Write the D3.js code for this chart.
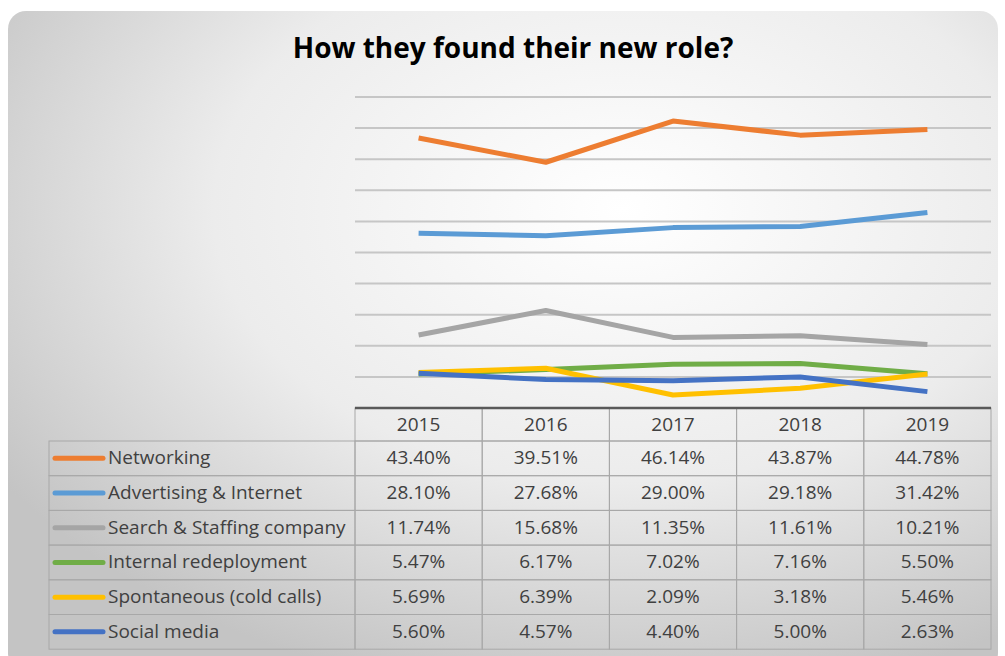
<!DOCTYPE html>
<html>
  <head>
    <title>How they found their new role?</title>
    <script src="https://d3js.org/d3.v7.min.js"></script>
    <style>
      body { margin: 0; background: #fff; }
      svg { font-family: "Open Sans", Lato, sans-serif; }
      .grid line { stroke: #c6c6c6; stroke-width: 2; }
      .line { fill: none; stroke-width: 5; stroke-linejoin: round; }
      .cell { fill: none; stroke: #a8a8a8; stroke-width: 1; }
      .tbl { font-size: 19px; fill: #404040; }
    </style>
  </head>
  <body>
    <svg width="1005" height="656"></svg>
    <script>
      const years = ["2015", "2016", "2017", "2018", "2019"];
      const seriesNames = ["Networking", "Advertising & Internet", "Search & Staffing company",
        "Internal redeployment", "Spontaneous (cold calls)", "Social media"];
      const networking = [43.40, 39.51, 46.14, 43.87, 44.78];
      const advertising = [28.10, 27.68, 29.00, 29.18, 31.42];
      const search = [11.74, 15.68, 11.35, 11.61, 10.21];
      const internal = [5.47, 6.17, 7.02, 7.16, 5.50];
      const spontaneous = [5.69, 6.39, 2.09, 3.18, 5.46];
      const social = [5.60, 4.57, 4.40, 5.00, 2.63];
      const colors = ["#ED7D31", "#5B9BD5", "#A5A5A5", "#70AD47", "#FFC000", "#4472C4"];
      const yTicks = [0, 5, 10, 15, 20, 25, 30, 35, 40, 45, 50];

      const series = [networking, advertising, search, internal, spontaneous, social]
        .map((v, i) => ({ name: seriesNames[i], color: colors[i], values: v }));

      const svg = d3.select("svg");

      // background card with soft radial gradient
      const defs = svg.append("defs");
      const grad = defs.append("radialGradient")
        .attr("id", "bg").attr("cx", "0.62").attr("cy", "0.3").attr("r", "0.75");
      grad.append("stop").attr("offset", "0%").attr("stop-color", "#ffffff");
      grad.append("stop").attr("offset", "55%").attr("stop-color", "#ececec");
      grad.append("stop").attr("offset", "100%").attr("stop-color", "#c4c4c4");

      svg.append("rect")
        .attr("x", 8).attr("y", 11).attr("width", 990).attr("height", 660)
        .attr("rx", 18)
        .attr("fill", "url(#bg)");

      svg.append("text")
        .attr("x", 513).attr("y", 58)
        .attr("text-anchor", "middle")
        .style("font-size", "28px")
        .style("font-weight", "bold")
        .attr("fill", "#000")
        .text("How they found their new role?");

      const plotLeft = 355, plotRight = 991, plotTop = 97, plotBottom = 408;

      const x = d3.scaleBand().domain(years).range([plotLeft, plotRight]);
      const y = d3.scaleLinear().domain([0, 50]).range([plotBottom, plotTop]);

      svg.append("g").attr("class", "grid")
        .selectAll("line")
        .data(yTicks.slice(1))
        .join("line")
        .attr("x1", plotLeft).attr("x2", plotRight)
        .attr("y1", d => y(d)).attr("y2", d => y(d));

      const line = d3.line()
        .x((d, i) => x(years[i]) + x.bandwidth() / 2)
        .y(d => y(d));

      svg.append("g")
        .selectAll("path")
        .data(series)
        .join("path")
        .attr("class", "line")
        .attr("stroke", d => d.color)
        .attr("d", d => line(d.values));

      // data table
      const headerH = 33, rowH = 34.7, labelLeft = 49;
      const table = svg.append("g").attr("class", "tbl");

      years.forEach(yr => {
        table.append("rect").attr("class", "cell")
          .attr("x", x(yr)).attr("y", plotBottom)
          .attr("width", x.bandwidth()).attr("height", headerH);
        table.append("text")
          .attr("x", x(yr) + x.bandwidth() / 2).attr("y", plotBottom + headerH / 2 + 6)
          .attr("text-anchor", "middle").text(yr);
      });

      series.forEach((s, i) => {
        const top = plotBottom + headerH + i * rowH;
        table.append("rect").attr("class", "cell")
          .attr("x", labelLeft).attr("y", top)
          .attr("width", plotLeft - labelLeft).attr("height", rowH);
        table.append("line")
          .attr("x1", 55).attr("x2", 103)
          .attr("y1", top + rowH / 2).attr("y2", top + rowH / 2)
          .attr("stroke", s.color).attr("stroke-width", 5).attr("stroke-linecap", "round");
        table.append("text")
          .attr("x", 108).attr("y", top + rowH / 2 + 6)
          .text(s.name);
        s.values.forEach((v, j) => {
          table.append("rect").attr("class", "cell")
            .attr("x", x(years[j])).attr("y", top)
            .attr("width", x.bandwidth()).attr("height", rowH);
          table.append("text")
            .attr("x", x(years[j]) + x.bandwidth() / 2).attr("y", top + rowH / 2 + 6)
            .attr("text-anchor", "middle")
            .text(v.toFixed(2) + "%");
        });
      });

      // category axis line on top of the table
      svg.append("line")
        .attr("x1", plotLeft).attr("x2", plotRight)
        .attr("y1", plotBottom).attr("y2", plotBottom)
        .attr("stroke", "#595959").attr("stroke-width", 2.5);
    </script>
  </body>
</html>
